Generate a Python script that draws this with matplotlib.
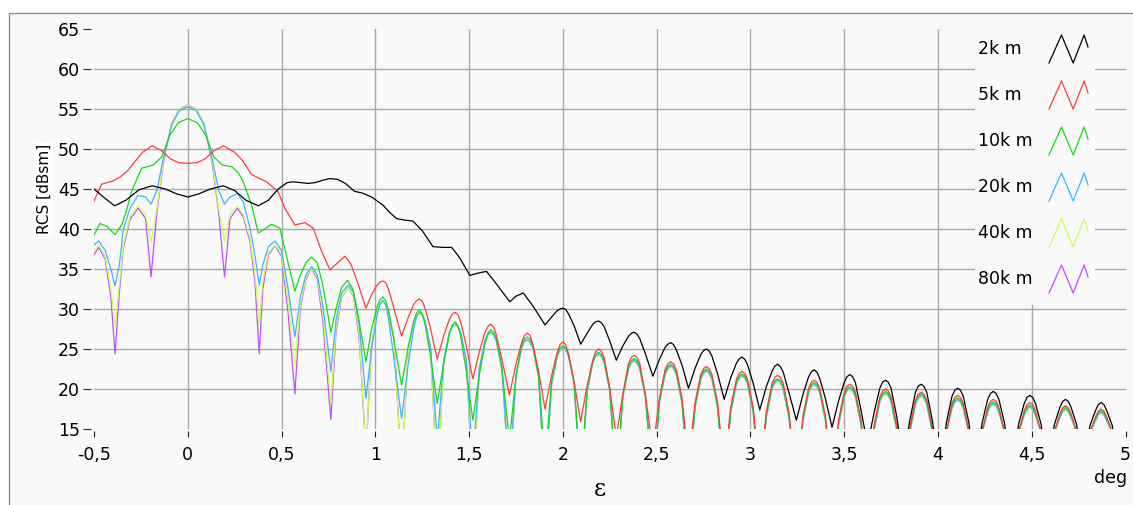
import matplotlib
matplotlib.use('Agg')
import matplotlib.pyplot as plt
from matplotlib.patches import Rectangle

# valeurs (deg, dBsm)
serie_labels = ['2k m', '5k m', '10k m', '20k m', '40k m', '80k m']
serie_colors = ['#000000', '#ff3b3b', '#10dd10', '#3cb4ff', '#ccff55', '#c24cff']

x_ticks = [-0.5, 0, 0.5, 1, 1.5, 2, 2.5, 3, 3.5, 4, 4.5, 5]
x_tick_labels = ['-0,5', '0', '0,5', '1', '1,5', '2', '2,5', '3', '3,5', '4', '4,5', '5']
y_ticks = [15, 20, 25, 30, 35, 40, 45, 50, 55, 60, 65]

# lobes secondaires (x >= 0.95): nul, flancs, sommet, flancs
x_tail = [0.95, 0.98, 1.01, 1.025, 1.04, 1.055, 1.07, 1.10,
          1.14, 1.175, 1.205, 1.22, 1.235, 1.25, 1.265, 1.295,
          1.33, 1.365, 1.395, 1.41, 1.425, 1.44, 1.455, 1.485,
          1.52, 1.555, 1.585, 1.60, 1.615, 1.63, 1.645, 1.675,
          1.715, 1.75, 1.78, 1.795, 1.81, 1.825, 1.84, 1.87,
          1.905, 1.94, 1.97, 1.985, 2.0, 2.015, 2.03, 2.06,
          2.095, 2.13, 2.16, 2.175, 2.19, 2.205, 2.22, 2.25,
          2.285, 2.32, 2.35, 2.365, 2.38, 2.395, 2.41, 2.44,
          2.48, 2.515, 2.545, 2.56, 2.575, 2.59, 2.605, 2.635,
          2.67, 2.705, 2.735, 2.75, 2.765, 2.78, 2.795, 2.825,
          2.86, 2.895, 2.925, 2.94, 2.955, 2.97, 2.985, 3.015,
          3.05, 3.085, 3.115, 3.13, 3.145, 3.16, 3.175, 3.205,
          3.245, 3.28, 3.31, 3.325, 3.34, 3.355, 3.37, 3.40,
          3.435, 3.47, 3.50, 3.515, 3.53, 3.545, 3.56, 3.59,
          3.625, 3.66, 3.69, 3.705, 3.72, 3.735, 3.75, 3.78,
          3.815, 3.85, 3.88, 3.895, 3.91, 3.925, 3.94, 3.97,
          4.01, 4.045, 4.075, 4.09, 4.105, 4.12, 4.135, 4.165,
          4.20, 4.235, 4.265, 4.28, 4.295, 4.31, 4.325, 4.355,
          4.39, 4.43, 4.46, 4.475, 4.49, 4.505, 4.52, 4.55,
          4.585, 4.62, 4.65, 4.665, 4.68, 4.695, 4.71, 4.74,
          4.775, 4.81, 4.84, 4.855, 4.87, 4.885, 4.90, 4.93,
          4.965, 5.0]

# 2k m
x_2k_head = [-0.5, -0.45, -0.39, -0.33, -0.26, -0.19, -0.12, -0.06, 0.0, 0.06, 0.12, 0.19,
             0.25, 0.31, 0.376, 0.43, 0.482, 0.53, 0.562, 0.6, 0.64, 0.68, 0.72, 0.758,
             0.8, 0.84, 0.89, 0.93, 0.98, 1.04, 1.08, 1.113, 1.16, 1.2, 1.25, 1.307,
             1.36, 1.407, 1.45, 1.504, 1.55, 1.593, 1.65, 1.717, 1.75, 1.789, 1.84]
rcs_2k_head = [45.0, 44.0, 42.9, 43.6, 44.9, 45.4, 45.0, 44.4, 44.0, 44.4, 45.0, 45.4,
               44.8, 43.6, 42.9, 43.6, 45.0, 45.8, 45.9, 45.8, 45.7, 45.8, 46.1, 46.3,
               46.2, 45.7, 44.7, 44.5, 44.0, 43.0, 42.0, 41.3, 41.1, 41.0, 39.8, 37.8,
               37.7, 37.7, 36.4, 34.2, 34.5, 34.7, 33.0, 30.9, 31.6, 32.0, 30.4]
rcs_2k_tail = [28.0, 29.0, 29.8, 30.0, 30.1, 29.95, 29.4, 27.9,
               25.6, 27.0, 28.1, 28.4, 28.5, 28.3, 27.8, 26.0,
               23.6, 25.4, 26.6, 26.95, 27.1, 26.85, 26.3, 24.4,
               21.6, 23.7, 25.2, 25.6, 25.8, 25.55, 24.9, 23.0,
               20.1, 22.6, 24.3, 24.8, 25.0, 24.75, 24.1, 21.9,
               18.7, 21.4, 23.2, 23.75, 24.0, 23.7, 23.0, 20.7,
               17.4, 20.3, 22.2, 22.85, 23.1, 22.8, 22.1, 19.6,
               16.1, 19.3, 21.5, 22.15, 22.4, 22.1, 21.3, 18.8,
               15.2, 18.5, 20.8, 21.55, 21.8, 21.55, 20.8, 17.3,
               13.0, 17.1, 20.1, 20.85, 21.1, 20.85, 20.1, 16.6,
               11.0, 16.1, 19.6, 20.35, 20.6, 20.35, 19.6, 16.1,
               9.0, 15.8, 19.1, 19.85, 20.1, 19.85, 19.1, 15.8,
               9.0, 15.7, 18.7, 19.45, 19.7, 19.45, 18.7, 15.7,
               9.0, 15.6, 18.2, 18.95, 19.2, 18.95, 18.2, 15.6,
               9.0, 15.5, 17.7, 18.45, 18.7, 18.45, 17.7, 15.5,
               9.0, 15.4, 17.3, 18.05, 18.3, 18.05, 17.3, 15.4,
               9.0, 10.0]

# 5k m
x_5k_head = [-0.5, -0.46, -0.40, -0.36, -0.32, -0.29, -0.24, -0.19, -0.14, -0.095, -0.05,
             0.0, 0.05, 0.095, 0.14, 0.19, 0.25, 0.29, 0.34, 0.42, 0.48, 0.518, 0.571,
             0.625, 0.669, 0.714, 0.758, 0.80, 0.838, 0.87, 0.91]
rcs_5k_head = [43.5, 45.6, 46.0, 46.5, 47.3, 48.2, 49.6, 50.4, 49.8, 48.8, 48.3,
               48.2, 48.3, 48.8, 49.8, 50.4, 49.6, 48.6, 46.8, 45.9, 44.7, 42.6, 40.5,
               40.8, 40.1, 37.2, 34.9, 35.8, 36.6, 35.6, 33.0]
rcs_5k_tail = [30.1, 31.8, 33.0, 33.35, 33.5, 33.3, 32.5, 30.0,
               26.6, 28.9, 30.6, 31.05, 31.25, 31.0, 30.1, 27.5,
               23.7, 26.7, 28.7, 29.35, 29.6, 29.3, 28.4, 25.4,
               21.25, 24.7, 27.1, 27.8, 28.1, 27.8, 26.8, 23.7,
               19.25, 23.1, 25.8, 26.7, 27.0, 26.7, 25.6, 22.3,
               17.5, 21.7, 24.6, 25.55, 25.9, 25.55, 24.4, 20.9,
               15.9, 20.5, 23.6, 24.65, 25.0, 24.7, 24.0, 20.0,
               14.0, 19.4, 23.2, 23.95, 24.2, 23.95, 23.2, 19.2,
               12.5, 18.9, 22.4, 23.15, 23.4, 23.15, 22.4, 18.9,
               11.0, 18.3, 21.8, 22.55, 22.8, 22.55, 21.8, 18.3,
               10.0, 17.7, 21.2, 21.95, 22.2, 21.95, 21.2, 17.7,
               9.0, 17.2, 20.7, 21.45, 21.7, 21.45, 20.7, 17.2,
               8.0, 16.6, 20.1, 20.85, 21.1, 20.85, 20.1, 16.6,
               8.0, 16.1, 19.6, 20.35, 20.6, 20.35, 19.6, 16.1,
               8.0, 15.5, 19.0, 19.75, 20.0, 19.75, 19.0, 15.5,
               8.0, 15.1, 18.6, 19.35, 19.6, 19.35, 18.6, 15.1,
               8.0, 14.7, 18.2, 18.95, 19.2, 18.95, 18.2, 14.7,
               8.0, 14.6, 17.7, 18.45, 18.7, 18.45, 17.7, 14.6,
               8.0, 14.6, 17.3, 18.05, 18.3, 18.05, 17.3, 14.6,
               8.0, 14.6, 16.9, 17.65, 17.9, 17.65, 16.9, 14.6,
               8.0, 14.6, 16.5, 17.25, 17.5, 17.25, 16.5, 14.6,
               8.0, 9.0]

# 10k m
x_10k_head = [-0.5, -0.468, -0.43, -0.388, -0.35, -0.326, -0.30, -0.246, -0.184, -0.139,
              -0.095, -0.05, 0.0, 0.05, 0.095, 0.139, 0.184, 0.234, 0.27, 0.296, 0.34,
              0.376, 0.41, 0.447, 0.491, 0.536, 0.571, 0.60, 0.63, 0.66, 0.69, 0.72,
              0.763, 0.79, 0.82, 0.852, 0.88, 0.91]
rcs_10k_head = [39.25, 40.7, 40.3, 39.3, 40.6, 42.4, 44.7, 47.6, 48.0, 49.0,
                51.75, 53.3, 53.8, 53.3, 51.75, 49.0, 48.0, 47.8, 47.0, 45.9, 43.0,
                39.5, 40.0, 40.6, 40.1, 35.7, 32.25, 34.2, 35.8, 36.5, 35.8, 33.0,
                27.1, 30.0, 32.7, 33.6, 32.5, 29.0]
rcs_10k_tail = [23.4, 27.5, 30.3, 31.15, 31.5, 31.05, 29.9, 26.0,
                20.5, 25.2, 28.5, 29.5, 29.9, 29.4, 28.1, 24.0,
                18.2, 23.3, 26.9, 28.0, 28.4, 27.95, 26.6, 22.2,
                16.1, 21.8, 25.7, 26.95, 27.4, 27.1, 26.4, 22.6,
                13.5, 21.7, 25.5, 26.25, 26.5, 26.25, 25.5, 21.7,
                11.0, 20.9, 24.4, 25.15, 25.4, 25.15, 24.4, 20.9,
                9.0, 20.1, 23.6, 24.35, 24.6, 24.35, 23.6, 20.1,
                8.0, 19.3, 22.8, 23.55, 23.8, 23.55, 22.8, 19.3,
                8.0, 18.6, 22.1, 22.85, 23.1, 22.85, 22.1, 18.6,
                8.0, 18.0, 21.5, 22.25, 22.5, 22.25, 21.5, 18.0,
                8.0, 17.4, 20.9, 21.65, 21.9, 21.65, 20.9, 17.4,
                8.0, 16.8, 20.3, 21.05, 21.3, 21.05, 20.3, 16.8,
                8.0, 16.3, 19.8, 20.55, 20.8, 20.55, 19.8, 16.3,
                8.0, 15.8, 19.3, 20.05, 20.3, 20.05, 19.3, 15.8,
                8.0, 15.2, 18.7, 19.45, 19.7, 19.45, 18.7, 15.2,
                8.0, 14.9, 18.4, 19.15, 19.4, 19.15, 18.4, 14.9,
                8.0, 14.6, 17.9, 18.65, 18.9, 18.65, 17.9, 14.6,
                8.0, 14.6, 17.4, 18.15, 18.4, 18.15, 17.4, 14.6,
                8.0, 14.6, 17.0, 17.75, 18.0, 17.75, 17.0, 14.6,
                8.0, 14.6, 16.7, 17.45, 17.7, 17.45, 16.7, 14.6,
                8.0, 14.6, 16.3, 17.05, 17.3, 17.05, 16.3, 14.6,
                8.0, 9.0]

# 20k, 40k, 80k: mêmes abscisses pour le lobe principal
x_fine_head = [-0.5, -0.475, -0.44, -0.41, -0.388, -0.365, -0.344, -0.308, -0.265, -0.225,
               -0.196, -0.165, -0.13, -0.086, -0.045, 0.0, 0.045, 0.086, 0.13, 0.165,
               0.196, 0.225, 0.265, 0.296, 0.332, 0.358, 0.381, 0.40, 0.43, 0.465,
               0.50, 0.535, 0.571, 0.60, 0.63, 0.66, 0.69, 0.72, 0.763, 0.79,
               0.82, 0.856, 0.885, 0.915]
rcs_20k_head = [38.0, 38.5, 37.3, 35.0, 32.9, 35.5, 39.9, 42.6, 44.2, 44.0,
                43.1, 44.8, 48.8, 53.0, 54.8, 55.3, 54.8, 53.0, 48.8, 44.8,
                43.1, 44.0, 44.4, 43.4, 40.1, 36.75, 33.0, 35.5, 37.8, 38.5,
                37.3, 32.5, 26.5, 31.5, 34.3, 35.3, 34.3, 30.5, 22.2, 28.5,
                32.0, 33.0, 32.0, 27.8]
rcs_40k_head = [37.3, 38.0, 36.5, 32.5, 27.8, 33.0, 38.0, 41.5, 42.9, 41.8,
                38.4, 42.5, 48.5, 53.2, 55.0, 55.5, 55.0, 53.2, 48.5, 42.5,
                38.4, 41.8, 42.9, 41.8, 38.8, 34.5, 28.0, 33.5, 37.0, 38.0,
                36.8, 31.0, 22.8, 30.5, 34.0, 35.0, 34.0, 29.5, 18.2, 27.5,
                31.6, 32.7, 31.6, 26.5]
rcs_80k_head = [36.8, 37.7, 36.2, 31.5, 24.4, 32.0, 37.6, 41.2, 42.6, 41.3,
                34.0, 42.0, 48.3, 53.2, 55.0, 55.5, 55.0, 53.2, 48.3, 42.0,
                34.0, 41.3, 42.6, 41.5, 38.4, 33.5, 24.4, 32.5, 36.8, 37.9,
                36.6, 29.5, 19.4, 30.0, 33.8, 35.0, 33.8, 28.5, 16.2, 27.0,
                31.5, 32.7, 31.5, 26.0]
rcs_20k_tail = [18.8, 25.0, 29.3, 30.6, 31.1, 30.5, 28.9, 23.7,
                16.3, 23.0, 27.6, 29.1, 29.6, 29.35, 28.6, 25.1,
                13.5, 23.6, 27.1, 27.85, 28.1, 27.85, 27.1, 23.6,
                11.0, 22.6, 26.1, 26.85, 27.1, 26.85, 26.1, 22.6,
                9.0, 21.7, 25.2, 25.95, 26.2, 25.95, 25.2, 21.7,
                8.0, 20.7, 24.2, 24.95, 25.2, 24.95, 24.2, 20.7,
                8.0, 19.9, 23.4, 24.15, 24.4, 24.15, 23.4, 19.9,
                8.0, 19.1, 22.6, 23.35, 23.6, 23.35, 22.6, 19.1,
                8.0, 18.4, 21.9, 22.65, 22.9, 22.65, 21.9, 18.4,
                8.0, 17.8, 21.3, 22.05, 22.3, 22.05, 21.3, 17.8,
                8.0, 17.2, 20.7, 21.45, 21.7, 21.45, 20.7, 17.2,
                8.0, 16.6, 20.1, 20.85, 21.1, 20.85, 20.1, 16.6,
                8.0, 16.1, 19.6, 20.35, 20.6, 20.35, 19.6, 16.1,
                8.0, 15.6, 19.1, 19.85, 20.1, 19.85, 19.1, 15.6,
                8.0, 15.0, 18.5, 19.25, 19.5, 19.25, 18.5, 15.0,
                8.0, 14.7, 18.2, 18.95, 19.2, 18.95, 18.2, 14.7,
                8.0, 14.6, 17.7, 18.45, 18.7, 18.45, 17.7, 14.6,
                8.0, 14.6, 17.2, 17.95, 18.2, 17.95, 17.2, 14.6,
                8.0, 14.6, 16.8, 17.55, 17.8, 17.55, 16.8, 14.6,
                8.0, 14.6, 16.5, 17.25, 17.5, 17.25, 16.5, 14.6,
                8.0, 14.6, 16.1, 16.85, 17.1, 16.85, 16.1, 14.6,
                8.0, 9.0]
# 40k et 80k se confondent sur les lobes secondaires
rcs_40k_80k_tail = [12.0, 25.4, 29.8, 30.65, 30.9, 30.65, 29.8, 26.2,
                    9.0, 24.9, 28.4, 29.15, 29.4, 29.15, 28.4, 24.9,
                    8.0, 23.5, 27.0, 27.75, 28.0, 27.75, 27.0, 23.5,
                    8.0, 22.5, 26.0, 26.75, 27.0, 26.75, 26.0, 22.5,
                    8.0, 21.6, 25.1, 25.85, 26.1, 25.85, 25.1, 21.6,
                    8.0, 20.6, 24.1, 24.85, 25.1, 24.85, 24.1, 20.6,
                    8.0, 19.8, 23.3, 24.05, 24.3, 24.05, 23.3, 19.8,
                    8.0, 19.0, 22.5, 23.25, 23.5, 23.25, 22.5, 19.0,
                    8.0, 18.3, 21.8, 22.55, 22.8, 22.55, 21.8, 18.3,
                    8.0, 17.7, 21.2, 21.95, 22.2, 21.95, 21.2, 17.7,
                    8.0, 17.1, 20.6, 21.35, 21.6, 21.35, 20.6, 17.1,
                    8.0, 16.5, 20.0, 20.75, 21.0, 20.75, 20.0, 16.5,
                    8.0, 16.0, 19.5, 20.25, 20.5, 20.25, 19.5, 16.0,
                    8.0, 15.5, 19.0, 19.75, 20.0, 19.75, 19.0, 15.5,
                    8.0, 14.9, 18.4, 19.15, 19.4, 19.15, 18.4, 14.9,
                    8.0, 14.6, 18.1, 18.85, 19.1, 18.85, 18.1, 14.6,
                    8.0, 14.6, 17.6, 18.35, 18.6, 18.35, 17.6, 14.6,
                    8.0, 14.6, 17.1, 17.85, 18.1, 17.85, 17.1, 14.6,
                    8.0, 14.6, 16.7, 17.45, 17.7, 17.45, 16.7, 14.6,
                    8.0, 14.6, 16.4, 17.15, 17.4, 17.15, 16.4, 14.6,
                    8.0, 14.6, 16.0, 16.75, 17.0, 16.75, 16.0, 14.6,
                    8.0, 9.0]

series_x = [x_2k_head + x_tail[40:], x_5k_head + x_tail, x_10k_head + x_tail,
            x_fine_head + x_tail, x_fine_head + x_tail, x_fine_head + x_tail]
series_y = [rcs_2k_head + rcs_2k_tail, rcs_5k_head + rcs_5k_tail,
            rcs_10k_head + rcs_10k_tail, rcs_20k_head + rcs_20k_tail,
            rcs_40k_head + rcs_40k_80k_tail, rcs_80k_head + rcs_40k_80k_tail]

plt.rcParams['font.family'] = 'DejaVu Sans'
W, H = 1133, 505
fig = plt.figure(figsize=(W / 100, H / 100), dpi=100)
fig.patch.set_facecolor('white')
fig.patches.append(Rectangle((9 / W, -0.05), 1.0, (H - 13) / H + 0.05,
                             transform=fig.transFigure, facecolor='#f9f9f9',
                             edgecolor='#8c8c8c', lw=1.0, zorder=-10))

# axe: -0.5 -> 94 px, 5 -> 1125.5 px ; 65 -> 29 px, 15 -> 429 px
ax = fig.add_axes([94 / W, (H - 429) / H, (1125.5 - 94) / W, 400 / H])
ax.set_zorder(1)
ax.set_facecolor('none')
ax.set_xlim(-0.5, 5)
ax.set_ylim(15, 65)
for s in ax.spines.values():
    s.set_visible(False)
ax.spines['left'].set_position(('outward', 2.2))
ax.spines['bottom'].set_position(('outward', 1.4))

for xv in x_ticks[1:-1]:
    ax.axvline(xv, color='#a8a8a8', lw=1.0, zorder=0.5)
for yv in y_ticks[1:-1]:
    ax.axhline(yv, color='#a8a8a8', lw=1.0, zorder=0.5)

for i, (xs, ys, col) in enumerate(zip(series_x, series_y, serie_colors)):
    # 80k dessiné en premier, 2k au-dessus
    ax.plot(xs, ys, color=col, lw=0.9, zorder=2 + (len(series_x) - i) * 0.1)

ax.set_xticks(x_ticks)
ax.set_xticklabels(x_tick_labels)
ax.set_yticks(y_ticks)
ax.tick_params(axis='y', length=5.8, width=0.8, color='#222222', pad=2, labelsize=12.5)
ax.tick_params(axis='x', length=4.3, width=0.8, color='#222222', pad=6.5, labelsize=12.5)

ax.set_ylabel('RCS [dBsm]', fontsize=11,
              bbox=dict(facecolor='white', edgecolor='none', pad=1.5))
ax.yaxis.set_label_coords((44 - 94) / 1031.5, (429 - 189) / 400)
ax.yaxis.label.set_verticalalignment('center')

ax.set_xlabel('ε', fontsize=17, family='DejaVu Serif')
ax.xaxis.set_label_coords((600 - 94) / 1031.5, (429 - 489) / 400)
ax.xaxis.label.set_verticalalignment('center')

ax.text((1111 - 94) / 1031.5, (429 - 478) / 400, 'deg', transform=ax.transAxes,
        ha='center', va='center', fontsize=12.5)

# légende façon LabVIEW: texte à gauche, icône en dents de scie à droite
ax.add_patch(Rectangle(((975 - 94) / 1031.5, (429 - 305) / 400), 120 / 1031.5, 277 / 400,
                       transform=ax.transAxes, facecolor='#f9f9f9', edgecolor='none',
                       zorder=4, clip_on=False))
zig_fx = [0, 0.32, 0.62, 0.9, 1.0]
zig_fy = [-0.5, 0.5, -0.5, 0.5, 0.07]
x_txt = (978 - 94) / 1031.5
x_ico = (1049 - 94) / 1031.5
w_ico = 39 / 1031.5
h_ico = 28 / 400
for i, (lab, col) in enumerate(zip(serie_labels, serie_colors)):
    yc = (429 - 49 - 46 * i) / 400
    ax.text(x_txt, yc, lab, transform=ax.transAxes, ha='left', va='center',
            fontsize=12.5, zorder=5)
    ax.plot([x_ico + f * w_ico for f in zig_fx], [yc + f * h_ico for f in zig_fy],
            color=col, lw=0.9, transform=ax.transAxes, clip_on=False, zorder=5)

fig.savefig('out.png', dpi=100)
